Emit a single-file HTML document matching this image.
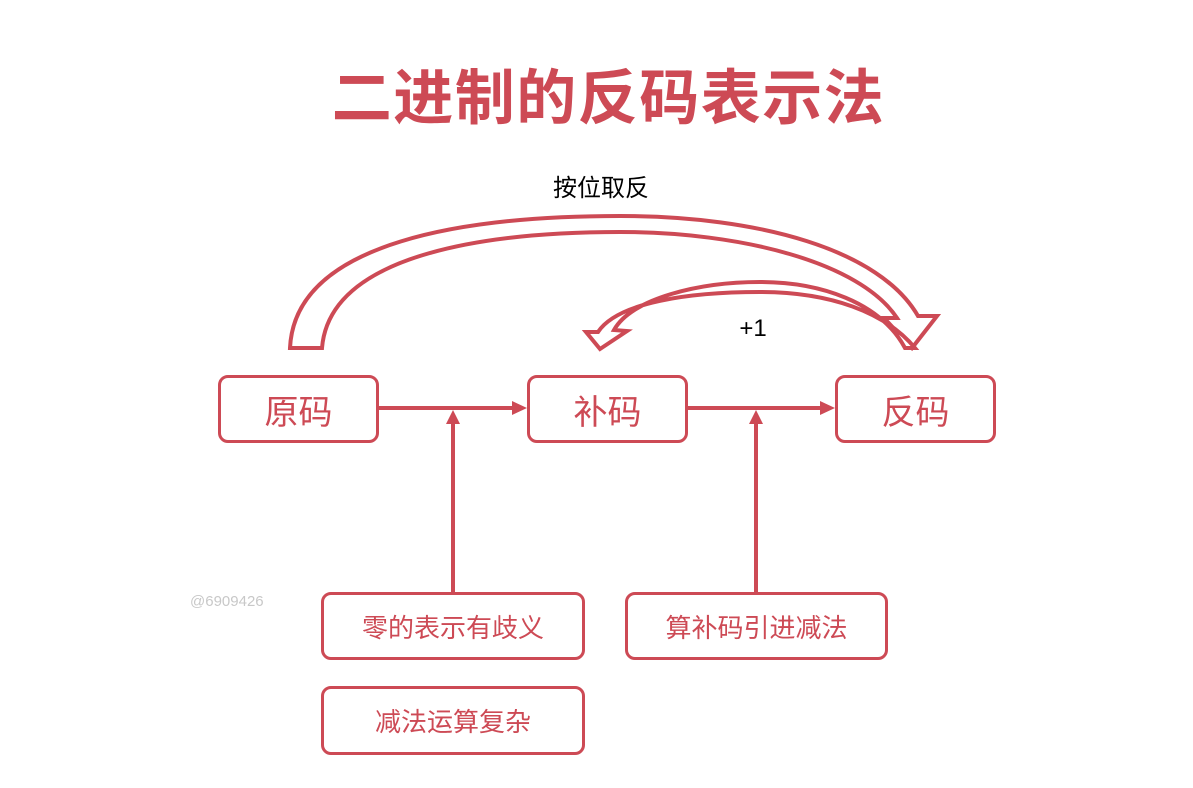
<!DOCTYPE html>
<html><head><meta charset="utf-8"><style>
body{margin:0;background:#fff;}
.w{position:relative;width:1193px;height:788px;overflow:hidden;font-family:"Liberation Sans","Noto Sans CJK SC",sans-serif;}
.t{position:absolute;left:12px;width:1193px;text-align:center;top:50px;font-size:60px;font-weight:bold;color:#cd4a55;letter-spacing:1.5px;}
.b{position:absolute;border:3px solid #cd4a55;border-radius:10px;box-sizing:border-box;color:#cd4a55;display:flex;align-items:center;justify-content:center;background:#fff;}
.big{font-size:34px;}
.sm{font-size:26px;}
</style></head><body><div class="w">
<div class="t">二进制的反码表示法</div>
<svg width="1193" height="788" style="position:absolute;left:0;top:0">
<g fill="none" stroke="#cd4a55" stroke-width="4" stroke-linejoin="miter">
<path d="M290,348 C295,240 470,216 620,216 C760,216 880,250 918,316 L937,316 L912,348 L884,318 L897,318 C860,262 740,232 620,232 C500,232 330,250 322,348 Z" fill="#fff"/>
<path d="M905,348 C880,302 820,282 760,282 C700,282 632,298 614,330 L627,331 L600,349 L586,332 L598,332 C618,302 690,292 760,292 C830,292 885,312 915,348 Z" fill="#fff"/>
</g>
<g stroke="#cd4a55" stroke-width="4" fill="#cd4a55">
<line x1="378" y1="408" x2="515" y2="408"/><polygon points="527,408 512,401 512,415" stroke="none"/>
<line x1="687" y1="408" x2="823" y2="408"/><polygon points="835,408 820,401 820,415" stroke="none"/>
<line x1="453" y1="592" x2="453" y2="422"/><polygon points="453,410 446,424 460,424" stroke="none"/>
<line x1="756" y1="592" x2="756" y2="422"/><polygon points="756,410 749,424 763,424" stroke="none"/>
</g>
<text x="601" y="196" font-size="24" text-anchor="middle" font-family="Liberation Sans,Noto Sans CJK SC,sans-serif">按位取反</text>
<text x="753" y="336" font-size="24" text-anchor="middle" font-family="Liberation Sans,sans-serif">+1</text>
<text x="190" y="606" font-size="15" fill="#c8c8c8" font-family="Liberation Sans,sans-serif">@6909426</text>
</svg>
<div class="b big" style="left:218px;top:375px;width:161px;height:68px">原码</div>
<div class="b big" style="left:527px;top:375px;width:161px;height:68px">补码</div>
<div class="b big" style="left:835px;top:375px;width:161px;height:68px">反码</div>
<div class="b sm" style="left:321px;top:592px;width:264px;height:68px">零的表示有歧义</div>
<div class="b sm" style="left:625px;top:592px;width:263px;height:68px">算补码引进减法</div>
<div class="b sm" style="left:321px;top:686px;width:264px;height:69px">减法运算复杂</div>
</div></body></html>
